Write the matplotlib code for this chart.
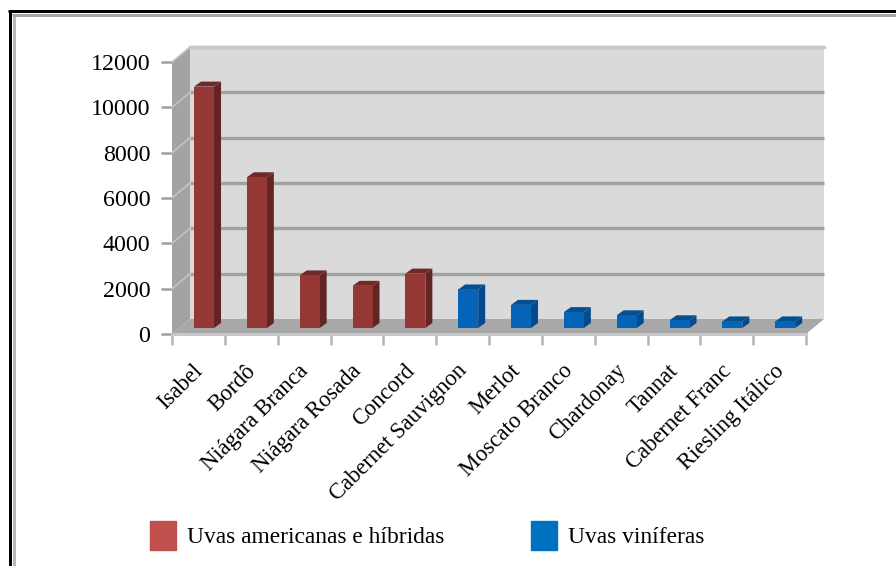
import matplotlib
matplotlib.use("Agg")
import matplotlib.pyplot as plt
from matplotlib.lines import Line2D
from matplotlib.patches import Polygon, Patch
from matplotlib.transforms import ScaledTranslation

categories = ["Isabel", "Bordô", "Niágara Branca", "Niágara Rosada", "Concord",
              "Cabernet Sauvignon", "Merlot", "Moscato Branco", "Chardonay",
              "Tannat", "Cabernet Franc", "Riesling Itálico"]
values = [10650, 6650, 2320, 1860, 2400, 1700, 1020, 700, 560, 340, 290, 290]
groups = [0, 0, 0, 0, 0, 1, 1, 1, 1, 1, 1, 1]
yticks = [0, 2000, 4000, 6000, 8000, 10000, 12000]
legend_labels = ["Uvas americanas e híbridas", "Uvas viníferas"]

W, H = 896, 566
plt.rcParams['font.family'] = ['Liberation Serif', 'DejaVu Serif']
fig = plt.figure(figsize=(W / 100, H / 100), dpi=100)
ax = fig.add_axes([172 / W, 1 - 334 / H, 634 / W, 272 / H])
n = len(categories)
ymax = yticks[-1]
ax.set_xlim(0, n)
ax.set_ylim(0, ymax)

# pixel-to-data scale factors
px = n / 634
py = ymax / 272
dx, dy = 18 * px, 15 * py          # depth of the box


def poly(pts, color, z):
    ax.add_patch(Polygon(pts, closed=True, facecolor=color, edgecolor='none',
                         zorder=z, clip_on=False))


# walls
poly([(0, 0), (dx, dy), (dx, ymax + dy), (0, ymax)], '#a3a3a3', 1)
poly([(dx, dy), (n + dx, dy), (n + dx, ymax + dy), (dx, ymax + dy)], '#dadada', 1)
poly([(0, 0), (n, 0), (n + dx, dy), (dx, dy)], '#a8a8a8', 1)

# gridlines on the back and side walls
for t in yticks[1:]:
    ax.plot([dx, n + dx], [t + dy, t + dy], color='#a2a2a2', lw=2.4, zorder=2,
            clip_on=False, solid_capstyle='butt')
    ax.plot([0, dx], [t, t + dy], color='#c4c4c4', lw=1.2, zorder=2, clip_on=False)
ax.plot([dx, n + dx], [ymax + dy, ymax + dy], color='#c8c8c8', lw=2.4, zorder=2, clip_on=False)
ax.plot([0, n], [0, 0], color='#c8c8c8', lw=2.2, zorder=3, clip_on=False)

# 3D bars
front = ['#953735', '#0563b8']
side = ['#632523', '#044a8c']
top = ['#6f2a28', '#04508f']
bw = 20 * px
ox, oy = 5.6 * px, 6 * py          # position of bar front inside the box
sx, sy = 7 * px, 5 * py            # bar depth
for i, (v, g) in enumerate(zip(values, groups)):
    x0 = i + 0.5 + ox - bw / 2
    x1 = x0 + bw
    y0, y1 = oy, oy + v
    poly([(x1, y0), (x1 + sx, y0 + sy), (x1 + sx, y1 + sy), (x1, y1)], side[g], 5)
    poly([(x0, y1), (x1, y1), (x1 + sx, y1 + sy), (x0 + sx, y1 + sy)], top[g], 5)
    poly([(x0, y0), (x1, y0), (x1, y1), (x0, y1)], front[g], 6)

# axes
for s in ax.spines.values():
    s.set_visible(False)
ax.patch.set_visible(False)
ax.set_yticks(yticks)
ax.set_yticklabels([str(t) for t in yticks], fontsize=17.3)
ax.tick_params(axis='y', length=8, width=1.8, color='#a0a0a0', pad=7.5)
ax.set_xticks(range(n + 1))
ax.set_xticklabels([])
ax.tick_params(axis='x', length=8, width=1.8, color='#b4b4b4')
ax.set_xticks([i + 0.5 for i in range(n)], minor=True)
labels = ax.set_xticklabels(categories, minor=True, rotation=45, ha='right', va='top',
                            rotation_mode='anchor', fontsize=16.3)
ax.tick_params(axis='x', which='minor', length=0, pad=24)
shift = ScaledTranslation(-6 / 100, 7 / 100, fig.dpi_scale_trans)
for lab in ax.get_xticklabels(minor=True):
    lab.set_transform(lab.get_transform() + shift)

# legend
handles = [Patch(facecolor='#c0504d', edgecolor='#c0504d'), Patch(facecolor='#0070c0', edgecolor='#0070c0')]
fig.legend(handles, legend_labels, loc='lower left', bbox_to_anchor=(150 / W, 1 - 550 / H),
           ncol=2, frameon=False, fontsize=16.8, handlelength=1.1, handleheight=1.55,
           columnspacing=3.7, handletextpad=0.5, borderpad=0, borderaxespad=0)

# outer frame
for xs, ys, col in [
    ([9.5, 9.5], [566, 11], '#000000'), ([8, 896], [11, 11], '#000000'),
    ([13.5, 13.5], [566, 15], '#b8b8b8'), ([12, 896], [15, 15], '#a6a6a6'),
]:
    fig.add_artist(Line2D([x / W for x in xs], [1 - y / H for y in ys],
                          transform=fig.transFigure, color=col, lw=2.16,
                          solid_capstyle='butt'))

fig.savefig("out.png", dpi=100)
